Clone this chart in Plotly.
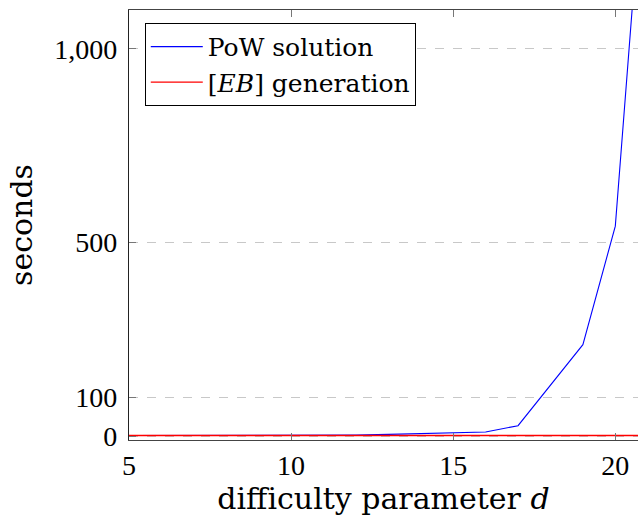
import plotly.graph_objects as go

d_values = [5, 6, 7, 8, 9, 10, 11, 12, 13, 14, 15, 16, 17, 18, 19, 20, 21]
pow_seconds = [1.5, 1.5, 1.5, 1.5, 1.5, 1.6, 2.0, 3.0, 4.5, 6.5, 9.0, 10.5, 27.0, 131.0, 236.0, 542.0, 1620.0]
eb_seconds = [1.5] * len(d_values)

y_tick_vals = [0, 100, 500, 1000]
y_tick_text = ["0", "100", "500", "1,000"]
x_tick_vals = [5, 10, 15, 20]

TICK_FONT = "Liberation Serif"
TEXT_FONT = "DejaVu Serif"

fig = go.Figure()
fig.add_trace(go.Scatter(x=d_values, y=pow_seconds, mode="lines",
                         line=dict(color="rgb(0,0,255)", width=1.1),
                         name="PoW solution"))
fig.add_trace(go.Scatter(x=d_values, y=eb_seconds, mode="lines",
                         line=dict(color="rgb(255,0,0)", width=1.4),
                         name="[<i>EB</i>] generation"))

fig.update_layout(
    width=638, height=523,
    margin=dict(l=129, r=0, t=10, b=83),
    paper_bgcolor="white", plot_bgcolor="white",
    font=dict(family=TEXT_FONT, size=25, color="black"),
    showlegend=True,
    legend=dict(x=0.031, y=0.970, xanchor="left", yanchor="top",
                bgcolor="white", bordercolor="black", borderwidth=1,
                font=dict(family=TEXT_FONT, size=25),
                tracegroupgap=0, itemwidth=52),
    xaxis=dict(range=[5, 20.7], tickvals=x_tick_vals,
               tickfont=dict(family=TICK_FONT, size=28),
               showgrid=False, zeroline=False,
               showline=True, linecolor="#444", linewidth=1.2, mirror="ticks",
               ticks="inside", ticklen=7, tickcolor="#777", tickwidth=1,
               ticklabelstandoff=0,
               title=dict(text="difficulty parameter <i>d</i>", standoff=6)),
    yaxis=dict(range=[-10, 1100], tickvals=y_tick_vals, ticktext=y_tick_text,
               tickfont=dict(family=TICK_FONT, size=28),
               showgrid=True, gridcolor="rgb(200,200,200)", griddash="dash", gridwidth=1,
               zeroline=False,
               showline=True, linecolor="#222", linewidth=1.2, mirror=False,
               ticks="inside", ticklen=7, tickcolor="#777", tickwidth=1,
               ticklabelstandoff=5,
               title=dict(text="seconds", standoff=12)),
)

fig.write_html("out.html", config={"displayModeBar": False},
               post_script="document.body.style.margin='0';document.body.style.overflow='hidden';")
